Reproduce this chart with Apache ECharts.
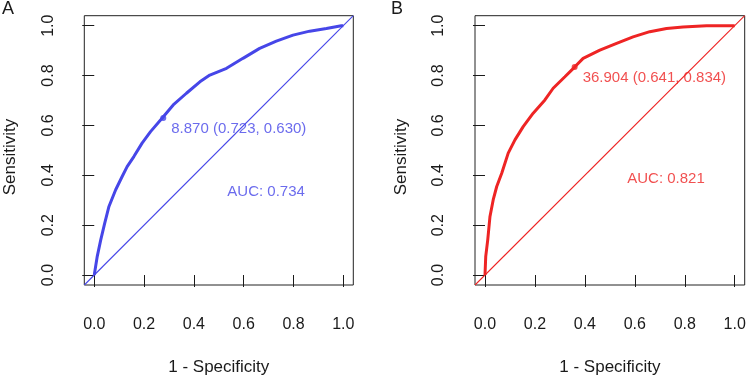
<!DOCTYPE html>
<html>
<head>
<meta charset="utf-8">
<script src="https://cdn.jsdelivr.net/npm/echarts@6/dist/echarts.min.js"></script>
<style>
html,body{margin:0;padding:0;background:#fff;}
#chart{width:749px;height:389px;}
</style>
</head>
<body>
<div id="chart"></div>
<script>
// ---- Data ----
const tickValues = [0.0, 0.2, 0.4, 0.6, 0.8, 1.0];

// Panel A: 1 - specificity / sensitivity
const fprA = [0, 0.012, 0.026, 0.042, 0.059, 0.086, 0.112, 0.132, 0.159, 0.192, 0.226, 0.273, 0.317, 0.37, 0.424, 0.464, 0.531, 0.597, 0.664, 0.731, 0.798, 0.865, 0.932, 0.992, 1];
const tprA = [0, 0.075, 0.141, 0.208, 0.275, 0.342, 0.395, 0.435, 0.475, 0.529, 0.575, 0.630, 0.682, 0.729, 0.775, 0.802, 0.829, 0.869, 0.909, 0.938, 0.962, 0.978, 0.989, 1.0, 1];
const cutA = [0.277, 0.630];
const cutLabelA = "8.870 (0.723, 0.630)";
const aucA = "AUC: 0.734";
const aucPosA = [0.69, 0.334];

// Panel B
const fprB = [0, 0.003, 0.011, 0.02, 0.033, 0.047, 0.067, 0.093, 0.12, 0.153, 0.193, 0.24, 0.273, 0.32, 0.359, 0.393, 0.46, 0.527, 0.593, 0.66, 0.727, 0.793, 0.887, 1];
const tprB = [0, 0.075, 0.141, 0.235, 0.302, 0.355, 0.408, 0.489, 0.542, 0.595, 0.649, 0.702, 0.749, 0.795, 0.834, 0.869, 0.902, 0.929, 0.955, 0.976, 0.989, 0.995, 1.0, 1];
const cutB = [0.359, 0.834];
const cutLabelB = "36.904 (0.641, 0.834)";
const aucB = "AUC: 0.821";
const aucPosB = [0.725, 0.386];

// reference diagonal spans the whole plot box
const diagEnds = [-0.04, 1.04];

const xTitle = "1 - Specificity";
const yTitle = "Sensitivity";
const panelLabels = ["A", "B"];

// ---- Chart ----
const FONT = "Liberation Sans, Arial, Helvetica, sans-serif";
const blue = "#4646E8";
const red = "#EE2424";
const ink = "#1a1a1a";
const zip = (a, b) => a.map((v, i) => [v, b[i]]);

const boxA = {left: 84.3, top: 15.7, width: 269, height: 269.3};
const boxB = {left: 475, top: 15.7, width: 269.7, height: 269.3};
function inner(b) {
  const r = 1.08;
  return {left: b.left + b.width * 0.04 / r, top: b.top + b.height * 0.04 / r,
          width: b.width / r, height: b.height / r};
}
const tA = inner(boxA), tB = inner(boxB);

function boxAxis(gi) {
  return {gridIndex: gi, type: 'value', min: diagEnds[0], max: diagEnds[1], show: false};
}
function tickX(gi) {
  return {gridIndex: gi, type: 'value', min: 0, max: 1, interval: 0.2, position: 'bottom', offset: 11,
    axisLine: {show: false}, splitLine: {show: false},
    axisTick: {show: true, length: 12, lineStyle: {color: ink, width: 1}},
    axisLabel: {show: true, margin: 31, color: ink, fontSize: 16, fontFamily: FONT,
      formatter: v => v.toFixed(1)}};
}
function tickY(gi) {
  return {gridIndex: gi, type: 'value', min: 0, max: 1, interval: 0.2, position: 'left', offset: 11,
    axisLine: {show: false}, splitLine: {show: false},
    axisTick: {show: true, length: 12, lineStyle: {color: ink, width: 1}},
    axisLabel: {show: true, margin: 27, rotate: 90, color: ink, fontSize: 16, fontFamily: FONT,
      formatter: v => v.toFixed(1)}};
}

function panelSeries(xi, fpr, tpr, cut, cutLabel, auc, aucPos, color) {
  return [
    {type: 'line', xAxisIndex: xi, yAxisIndex: xi, data: zip(diagEnds, diagEnds), symbol: 'none',
      itemStyle: {color: color}, lineStyle: {color: color, width: 1.1}, silent: true, animation: false, z: 2},
    {type: 'line', xAxisIndex: xi, yAxisIndex: xi, data: zip(fpr, tpr), symbol: 'none',
      itemStyle: {color: color}, lineStyle: {color: color, width: 3}, animation: false, z: 3},
    {type: 'scatter', xAxisIndex: xi, yAxisIndex: xi, data: [cut], symbolSize: 6,
      itemStyle: {color: color}, animation: false, z: 4,
      label: {show: true, position: 'right', distance: 5, offset: [0, 11], formatter: cutLabel,
        color: color, fontSize: 15, fontFamily: FONT}},
    {type: 'scatter', xAxisIndex: xi, yAxisIndex: xi, data: [aucPos], symbolSize: 0,
      itemStyle: {color: 'transparent'}, animation: false, z: 4,
      label: {show: true, position: 'inside', formatter: auc, color: color, fontSize: 15, fontFamily: FONT}}
  ];
}

const chart = echarts.init(document.getElementById('chart'), null, {renderer: 'canvas'});
chart.setOption({
  backgroundColor: '#fff',
  animation: false,
  grid: [
    Object.assign({show: true, borderColor: '#222', borderWidth: 1, backgroundColor: 'transparent'}, boxA),
    Object.assign({show: true, borderColor: '#222', borderWidth: 1, backgroundColor: 'transparent'}, boxB),
    Object.assign({show: false}, tA),
    Object.assign({show: false}, tB)
  ],
  xAxis: [boxAxis(0), boxAxis(1), tickX(2), tickX(3)],
  yAxis: [boxAxis(0), boxAxis(1), tickY(2), tickY(3)],
  series: [].concat(
    panelSeries(0, fprA, tprA, cutA, cutLabelA, aucA, aucPosA, blue),
    panelSeries(1, fprB, tprB, cutB, cutLabelB, aucB, aucPosB, red)
  ),
  graphic: [
    {type: 'text', left: 2, top: 0, style: {text: panelLabels[0], fontSize: 18, fontFamily: FONT, fill: ink}},
    {type: 'text', left: 391, top: 0, style: {text: panelLabels[1], fontSize: 18, fontFamily: FONT, fill: ink}},
    {type: 'text', x: boxA.left + boxA.width / 2, y: 367, style: {text: xTitle, fontSize: 17, fontFamily: FONT, fill: ink, align: 'center', verticalAlign: 'middle'}},
    {type: 'text', x: boxB.left + boxB.width / 2, y: 367, style: {text: xTitle, fontSize: 17, fontFamily: FONT, fill: ink, align: 'center', verticalAlign: 'middle'}},
    {type: 'text', x: 10, y: 157, rotation: Math.PI / 2, style: {text: yTitle, fontSize: 17, fontFamily: FONT, fill: ink, align: 'center', verticalAlign: 'middle'}},
    {type: 'text', x: 401, y: 157, rotation: Math.PI / 2, style: {text: yTitle, fontSize: 17, fontFamily: FONT, fill: ink, align: 'center', verticalAlign: 'middle'}}
  ]
});
</script>
</body>
</html>
